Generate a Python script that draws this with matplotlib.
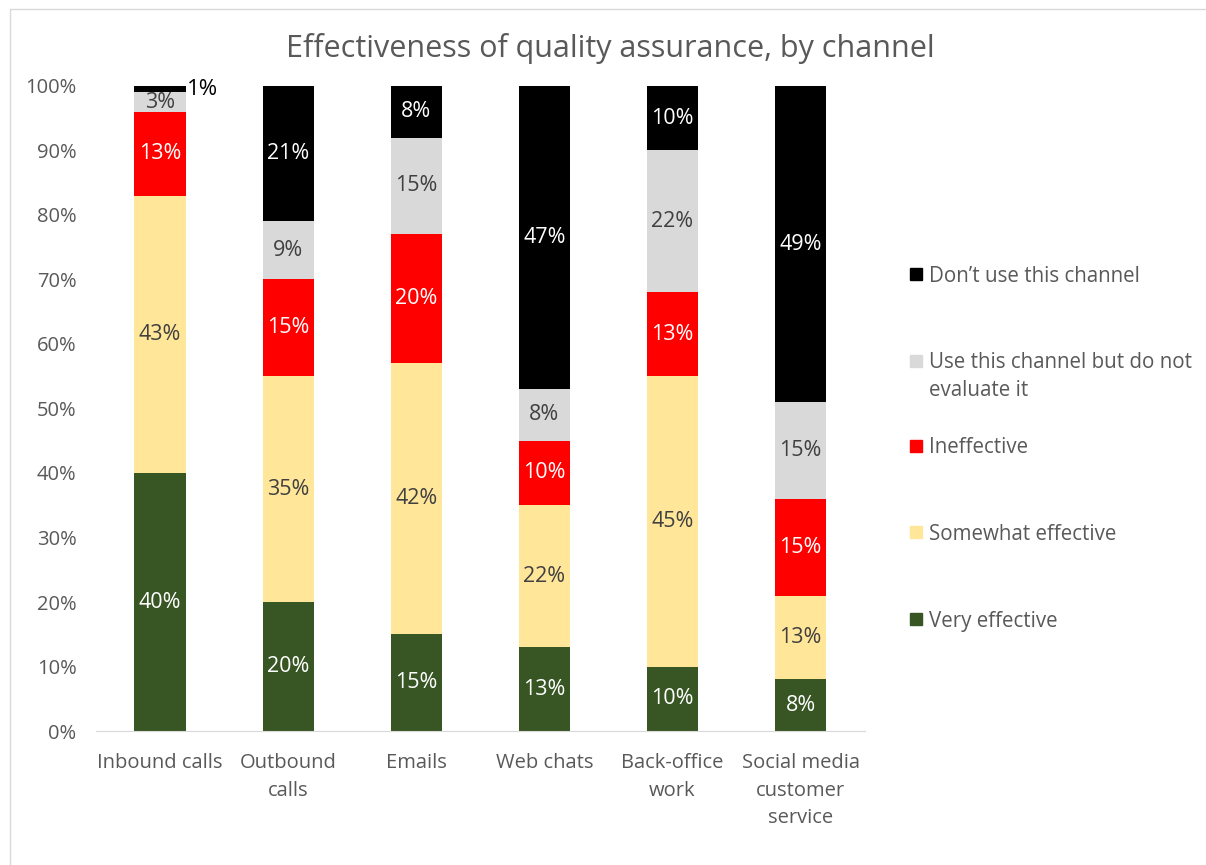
import numpy as np
import matplotlib
matplotlib.use("Agg")
import matplotlib.pyplot as plt
from matplotlib.patches import Rectangle

plt.rcParams['font.family'] = ['Open Sans', 'DejaVu Sans']

channels = ["Inbound calls", "Outbound\ncalls", "Emails", "Web chats",
            "Back-office\nwork", "Social media\ncustomer\nservice"]
very_effective = [40, 20, 15, 13, 10, 8]
somewhat_effective = [43, 35, 42, 22, 45, 13]
ineffective = [13, 15, 20, 10, 13, 15]
not_evaluated = [3, 9, 15, 8, 22, 15]
dont_use = [1, 21, 8, 47, 10, 49]

series = [
    ("Very effective", very_effective, "#375623", "white"),
    ("Somewhat effective", somewhat_effective, "#FFE699", "#404040"),
    ("Ineffective", ineffective, "#FF0000", "white"),
    ("Use this channel but do not\nevaluate it", not_evaluated, "#D9D9D9", "#404040"),
    ("Don\u2019t use this channel", dont_use, "#000000", "white"),
]

W, H = 1206, 865
fig = plt.figure(figsize=(W / 100, H / 100), dpi=100)
ax = fig.add_axes([0.0796, 0.1549, 0.6374, 0.7457])

x = np.arange(len(channels))
bottom = np.zeros(len(channels))
for name, vals, col, tcol in series:
    vals = np.array(vals, dtype=float)
    ax.bar(x, vals, 0.4, bottom=bottom, color=col, label=name)
    for i, v in enumerate(vals):
        if v >= 3:
            ax.text(x[i], bottom[i] + v / 2, f"{int(v)}%", ha="center", va="center",
                    color=tcol, fontsize=15.5)
        else:
            ax.text(x[i] + 0.21, bottom[i] + v / 2, f"{int(v)}%", ha="left", va="center",
                    color="black", fontsize=16)
    bottom += vals

ax.set_xlim(-0.5, len(channels) - 0.5)
ax.set_ylim(0, 100)
ax.set_yticks(np.arange(0, 101, 10))
ax.set_yticklabels([f"{t}%" for t in range(0, 101, 10)])
ax.set_xticks(x)
ax.set_xticklabels(channels, linespacing=1.5)
ax.tick_params(axis="both", length=0, labelsize=14.5, colors="#595959")
ax.tick_params(axis="x", pad=16)
ax.tick_params(axis="y", pad=14)
for s in ["top", "right", "left"]:
    ax.spines[s].set_visible(False)
ax.spines["bottom"].set_color("#D9D9D9")

fig.suptitle("Effectiveness of quality assurance, by channel", x=0.506, y=0.962,
             fontsize=22, color="#595959")

# legend drawn by hand to keep Excel's even slot spacing
legend_rows = [
    (["Don\u2019t use this channel"], "#000000", 274),
    (["Use this channel but do not", "evaluate it"], "#D9D9D9", 361),
    (["Ineffective"], "#FF0000", 446),
    (["Somewhat effective"], "#FFE699", 532),
    (["Very effective"], "#375623", 619),
]
for lines, col, ypx in legend_rows:
    fig.patches.append(Rectangle((910 / W, 1 - (ypx + 6) / H), 12 / W, 12 / H,
                                 transform=fig.transFigure, color=col))
    for j, line in enumerate(lines):
        fig.text(929 / W, 1 - (ypx + 2 + 28 * j) / H, line, ha="left", va="center",
                 fontsize=14.8, color="#595959")

fig.patches.append(Rectangle((0.008, -0.01), 1.0, 1.0, transform=fig.transFigure,
                             fill=False, edgecolor="#D9D9D9", linewidth=1))

fig.savefig("out.png", dpi=100)
